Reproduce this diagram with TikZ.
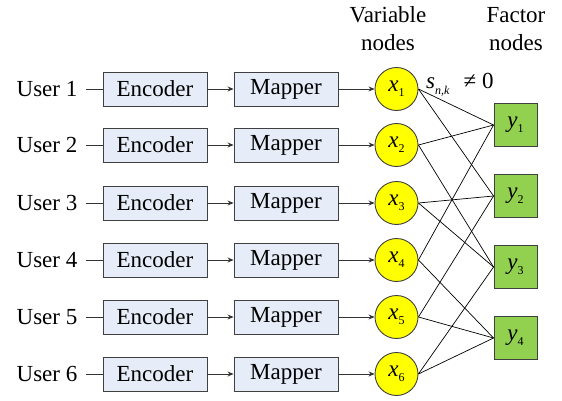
\documentclass[tikz,border=0pt]{standalone}
\usepackage{fontspec}
\setmainfont{Liberation Serif}
\usetikzlibrary{arrows.meta}
\definecolor{boxfill}{HTML}{E6EDF8}
\definecolor{boxdraw}{HTML}{404040}
\definecolor{varfill}{HTML}{FFFF00}
\definecolor{facfill}{HTML}{92D050}
\newcommand{\sub}[1]{\raisebox{-0.5ex}{\fontsize{12}{12}\selectfont #1}}
\tikzset{
  txt/.style={font=\rmfamily\fontsize{23}{23}\selectfont},
  blk/.style={txt, draw=boxdraw, fill=boxfill, line width=0.9pt, minimum width=104pt, minimum height=34pt, inner sep=0pt},
  varnode/.style={txt, circle, draw=boxdraw, fill=varfill, line width=0.9pt, minimum size=43pt, inner sep=0pt},
  facnode/.style={txt, draw=boxdraw, fill=facfill, line width=0.9pt, minimum size=43pt, inner sep=0pt},
  lbl/.style={txt, inner sep=0pt},
  arr/.style={draw=black!80, line width=0.8pt, -{Stealth[length=6pt,width=5pt]}},
  plain/.style={draw=black!80, line width=0.8pt},
  edge/.style={draw=black, line width=0.7pt}
}
\begin{document}
\begin{tikzpicture}[x=1pt, y=-1pt]
\useasboundingbox (0,0) rectangle (562,401);
\foreach \i/\yy in {1/89, 2/145, 3/203, 4/260, 5/317, 6/374} {
  \node[lbl] (u\i) at (47,\yy) {User \i};
  \node[blk] (e\i) at (155,\yy) {Encoder};
  \node[blk] (m\i) at (286,\yy) {Mapper};
  \node[varnode] (x\i) at (396.5,\yy) {\textit{x}\sub{\i}};
  \draw[plain] (u\i.east) ++(8,0) -- (e\i.west);
  \draw[arr] (e\i) -- (m\i);
  \draw[arr] (m\i) -- (x\i);
}
\foreach \j/\yy in {1/125, 2/196, 3/267, 4/338} {
  \node[facnode] (y\j) at (515.5,\yy) {\textit{y}\sub{\j}};
}
\foreach \a/\b in {1/1, 1/2, 2/1, 2/3, 3/2, 3/3, 4/1, 4/4, 5/2, 5/4, 6/3, 6/4} {
  \draw[edge] (x\a.east) -- (y\b.west);
}
\node[lbl, anchor=base] (vh1) at (388,23) {Variable};
\node[lbl, anchor=base] (vh2) at (388,51) {nodes};
\node[lbl, anchor=base] (fh1) at (516,23) {Factor};
\node[lbl, anchor=base] (fh2) at (516,51) {nodes};
\node[lbl, anchor=base west] (snk) at (426,89) {\textit{s}\sub{\textit{n},\textit{k}}\hspace{14pt}\char"2260\ 0};
\end{tikzpicture}
\end{document}
